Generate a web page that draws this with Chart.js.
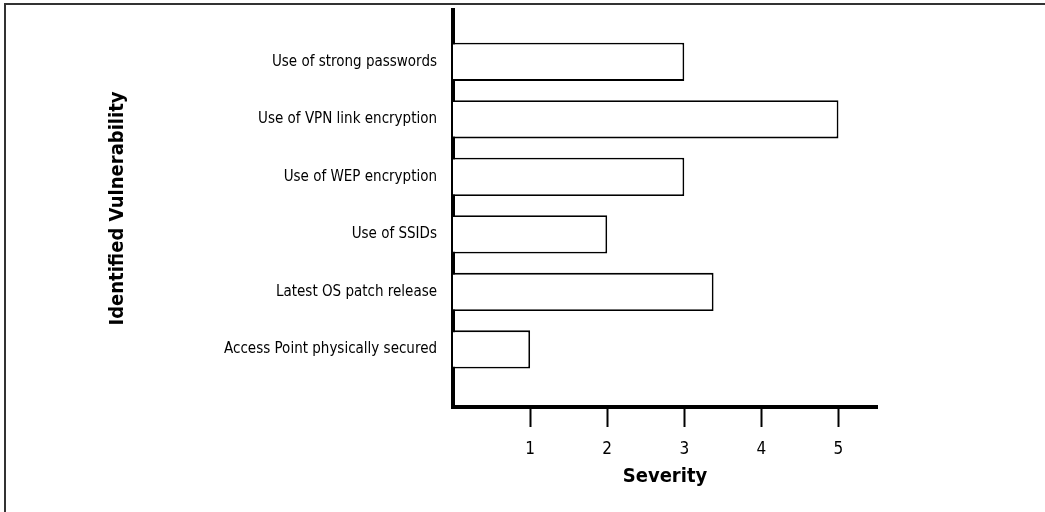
<!DOCTYPE html>
<html>
<head>
<meta charset="utf-8">
<script src="https://cdn.jsdelivr.net/npm/chart.js@4/dist/chart.umd.min.js"></script>
<style>
  html, body { margin: 0; padding: 0; background: #fff; }
  #frame { position: absolute; left: 4px; top: 3px; width: 1100px; height: 600px;
           border-top: 2px solid #333; border-left: 2px solid #333; }
  #wrap { position: absolute; left: 0; top: 0; width: 1045px; height: 512px; }
</style>
</head>
<body>
<div id="frame"></div>
<div id="wrap"><canvas id="barChart"></canvas></div>
<script>
// categories listed top to bottom
var categories = ["Use of strong passwords", "Use of VPN link encryption", "Use of WEP encryption",
                  "Use of SSIDs", "Latest OS patch release", "Access Point physically secured"];
var severity = [3, 5, 3, 2, 3.38, 1];
var xTicks = [1, 2, 3, 4, 5];

var narrow = "'Liberation Sans Narrow', 'DejaVu Sans Condensed', sans-serif";

// slot 0 sits on the x axis and stays empty, so the top category gets the highest slot
var points = categories.map(function (c, i) {
  return { x: severity[i], y: categories.length - i };
});

var ctx = document.getElementById("barChart").getContext('2d');
var myBarChart = new Chart(ctx, {
  type: 'bar',
  data: {
    datasets: [{
      data: points,
      backgroundColor: "#ffffff",
      borderColor: "#000000",
      borderWidth: 1.8,
      barPercentage: 0.83,
      categoryPercentage: 0.8
    }]
  },
  options: {
    indexAxis: 'y',
    responsive: true,
    maintainAspectRatio: false,
    animation: false,
    layout: { padding: { left: 100, right: 168, top: 10, bottom: 0 } },
    plugins: { legend: { display: false }, tooltip: { enabled: false } },
    scales: {
      x: {
        type: 'linear',
        min: 0,
        max: 5.5,
        afterBuildTicks: function (s) { s.ticks = xTicks.map(function (v) { return { value: v }; }); },
        afterFit: function (s) { s.height = 105; s.paddingLeft = 0; s.paddingRight = 0; },
        border: { display: true, color: "#000", width: 4 },
        grid: { drawOnChartArea: false, drawTicks: true, tickLength: 20, tickWidth: 2, tickColor: "#000" },
        ticks: { color: "#000", padding: 12, font: { family: narrow, size: 17 } },
        title: { display: true, text: "Severity", color: "#000",
                 padding: { top: 0, bottom: 23 },
                 font: { family: narrow, size: 20, weight: 'bold' } }
      },
      y: {
        type: 'linear',
        min: 0,
        max: 6.9,
        offset: false,
        afterBuildTicks: function (s) {
          s.ticks = categories.map(function (c, i) { return { value: categories.length - i }; });
        },
        afterFit: function (s) { s.width = 353; s.paddingTop = 0; s.paddingBottom = 0; },
        border: { display: true, color: "#000", width: 4 },
        grid: { drawOnChartArea: false, drawTicks: false, offset: false },
        ticks: {
          color: "#000", padding: 16,
          font: { family: narrow, size: 15 },
          callback: function (v) { return categories[categories.length - v]; }
        },
        title: { display: true, text: "Identified Vulnerability", color: "#000",
                 padding: { top: 6, bottom: 0 },
                 font: { family: narrow, size: 20, weight: 'bold' } }
      }
    }
  }
});
</script>
</body>
</html>
